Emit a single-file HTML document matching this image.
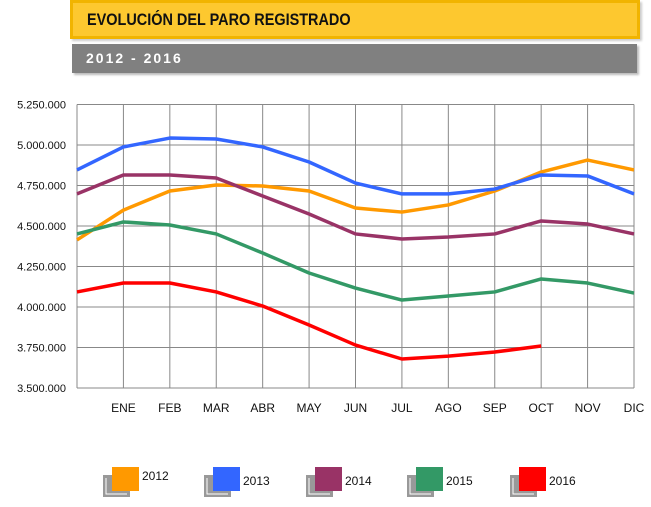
<!DOCTYPE html>
<html><head><meta charset="utf-8"><style>
body{margin:0;width:651px;height:507px;background:#fff;overflow:hidden;font-family:"Liberation Sans",sans-serif;position:relative}
.t{position:absolute;left:70px;top:0;width:564px;height:33px;background:#fdc82f;border:3px solid #f1b400;box-shadow:2px 2px 2px #ccc}
.t span{position:absolute;left:14px;top:7px;font-size:17px;font-weight:bold;color:#111;transform:scaleX(.85);transform-origin:left;white-space:nowrap}
.g{position:absolute;left:72px;top:44px;width:565px;height:29px;background:#808080;box-shadow:2px 2px 2px #bbb}
.g span{position:absolute;left:14px;top:6px;font-size:14px;font-weight:bold;color:#fff;letter-spacing:2px}
</style></head><body>
<div class="t"><span>EVOLUCIÓN DEL PARO REGISTRADO</span></div>
<div class="g"><span>2012 - 2016</span></div>
<svg id="c" width="651" height="507" style="position:absolute;left:0;top:0"></svg>
<script>
const categories=["","ENE","FEB","MAR","ABR","MAY","JUN","JUL","AGO","SEP","OCT","NOV","DIC"];
const yTicks=[3500000,3750000,4000000,4250000,4500000,4750000,5000000,5250000];
const yTickLabels=["3.500.000","3.750.000","4.000.000","4.250.000","4.500.000","4.750.000","5.000.000","5.250.000"];
const seriesNames=["2012","2013","2014","2015","2016"];
const s2012=[4414000,4598000,4716000,4753000,4747000,4716000,4611000,4586000,4630000,4716000,4833000,4907000,4846000];
const s2013=[4846000,4988000,5043000,5037000,4988000,4895000,4765000,4698000,4698000,4728000,4815000,4809000,4698000];
const s2014=[4698000,4815000,4815000,4796000,4685000,4574000,4451000,4420000,4432000,4451000,4531000,4512000,4451000];
const s2015=[4451000,4525000,4506000,4451000,4333000,4210000,4117000,4043000,4068000,4093000,4173000,4148000,4086000];
const s2016=[4093000,4148000,4148000,4093000,4006000,3889000,3765000,3679000,3697000,3722000,3759000];
const colors=["#ff9900","#3366ff","#993366","#339966","#ff0000"];
const series=[s2012,s2013,s2014,s2015,s2016];
const svg=document.getElementById('c');const NS='http://www.w3.org/2000/svg';
const X0=77,X1=634,Y0=388,Y1=104.5,ymin=3500000,ymax=5250000;
const x=i=>X0+i*(X1-X0)/(categories.length-1);
const y=v=>Y0-(v-ymin)/(ymax-ymin)*(Y0-Y1);
function mk(t,a){const e=document.createElementNS(NS,t);for(const k in a)e.setAttribute(k,a[k]);svg.appendChild(e);return e;}
yTicks.forEach((v,i)=>{
 const l=mk('line',{x1:X0,x2:X1,y1:y(v),y2:y(v),stroke:'#888','stroke-width':1});
 
 
 const t=mk('text',{x:66,y:y(v)+4,'text-anchor':'end','font-size':11,fill:'#111','font-family':'Liberation Sans'});
 t.textContent=yTickLabels[i];
 
 
});
categories.forEach((c,i)=>{
 const l=mk('line',{x1:x(i),x2:x(i),y1:Y1,y2:Y0,stroke:'#888','stroke-width':1});
 
 
 if(c){const t=mk('text',{x:x(i),y:412,'text-anchor':'middle','font-size':12,fill:'#111','font-family':'Liberation Sans'});
 t.textContent=c;
 
 }
});
series.forEach((s,k)=>{
 const p=mk('polyline',{points:s.map((v,i)=>x(i)+','+y(v)).join(' '),fill:'none',stroke:colors[k],'stroke-width':3.5,'stroke-linejoin':'round'});
 
 
});
const lx=[112,213,315,416,519];
seriesNames.forEach((n,k)=>{
 const g=mk('rect',{x:lx[k]-9,y:475,width:27,height:22,fill:'#999'});
 
 
 mk('polyline',{points:(lx[k]-6)+',478 '+(lx[k]-6)+',494 '+(lx[k]+15)+',494',fill:'none',stroke:'#fff','stroke-width':1});
 const r=mk('rect',{x:lx[k],y:467,width:27,height:24,fill:colors[k]});
 
 
 const t=mk('text',{x:lx[k]+30,y:k==0?480:485,'font-size':12,fill:'#111','font-family':'Liberation Sans'});
 t.textContent=n;
 
 
});
</script>
</body></html>
